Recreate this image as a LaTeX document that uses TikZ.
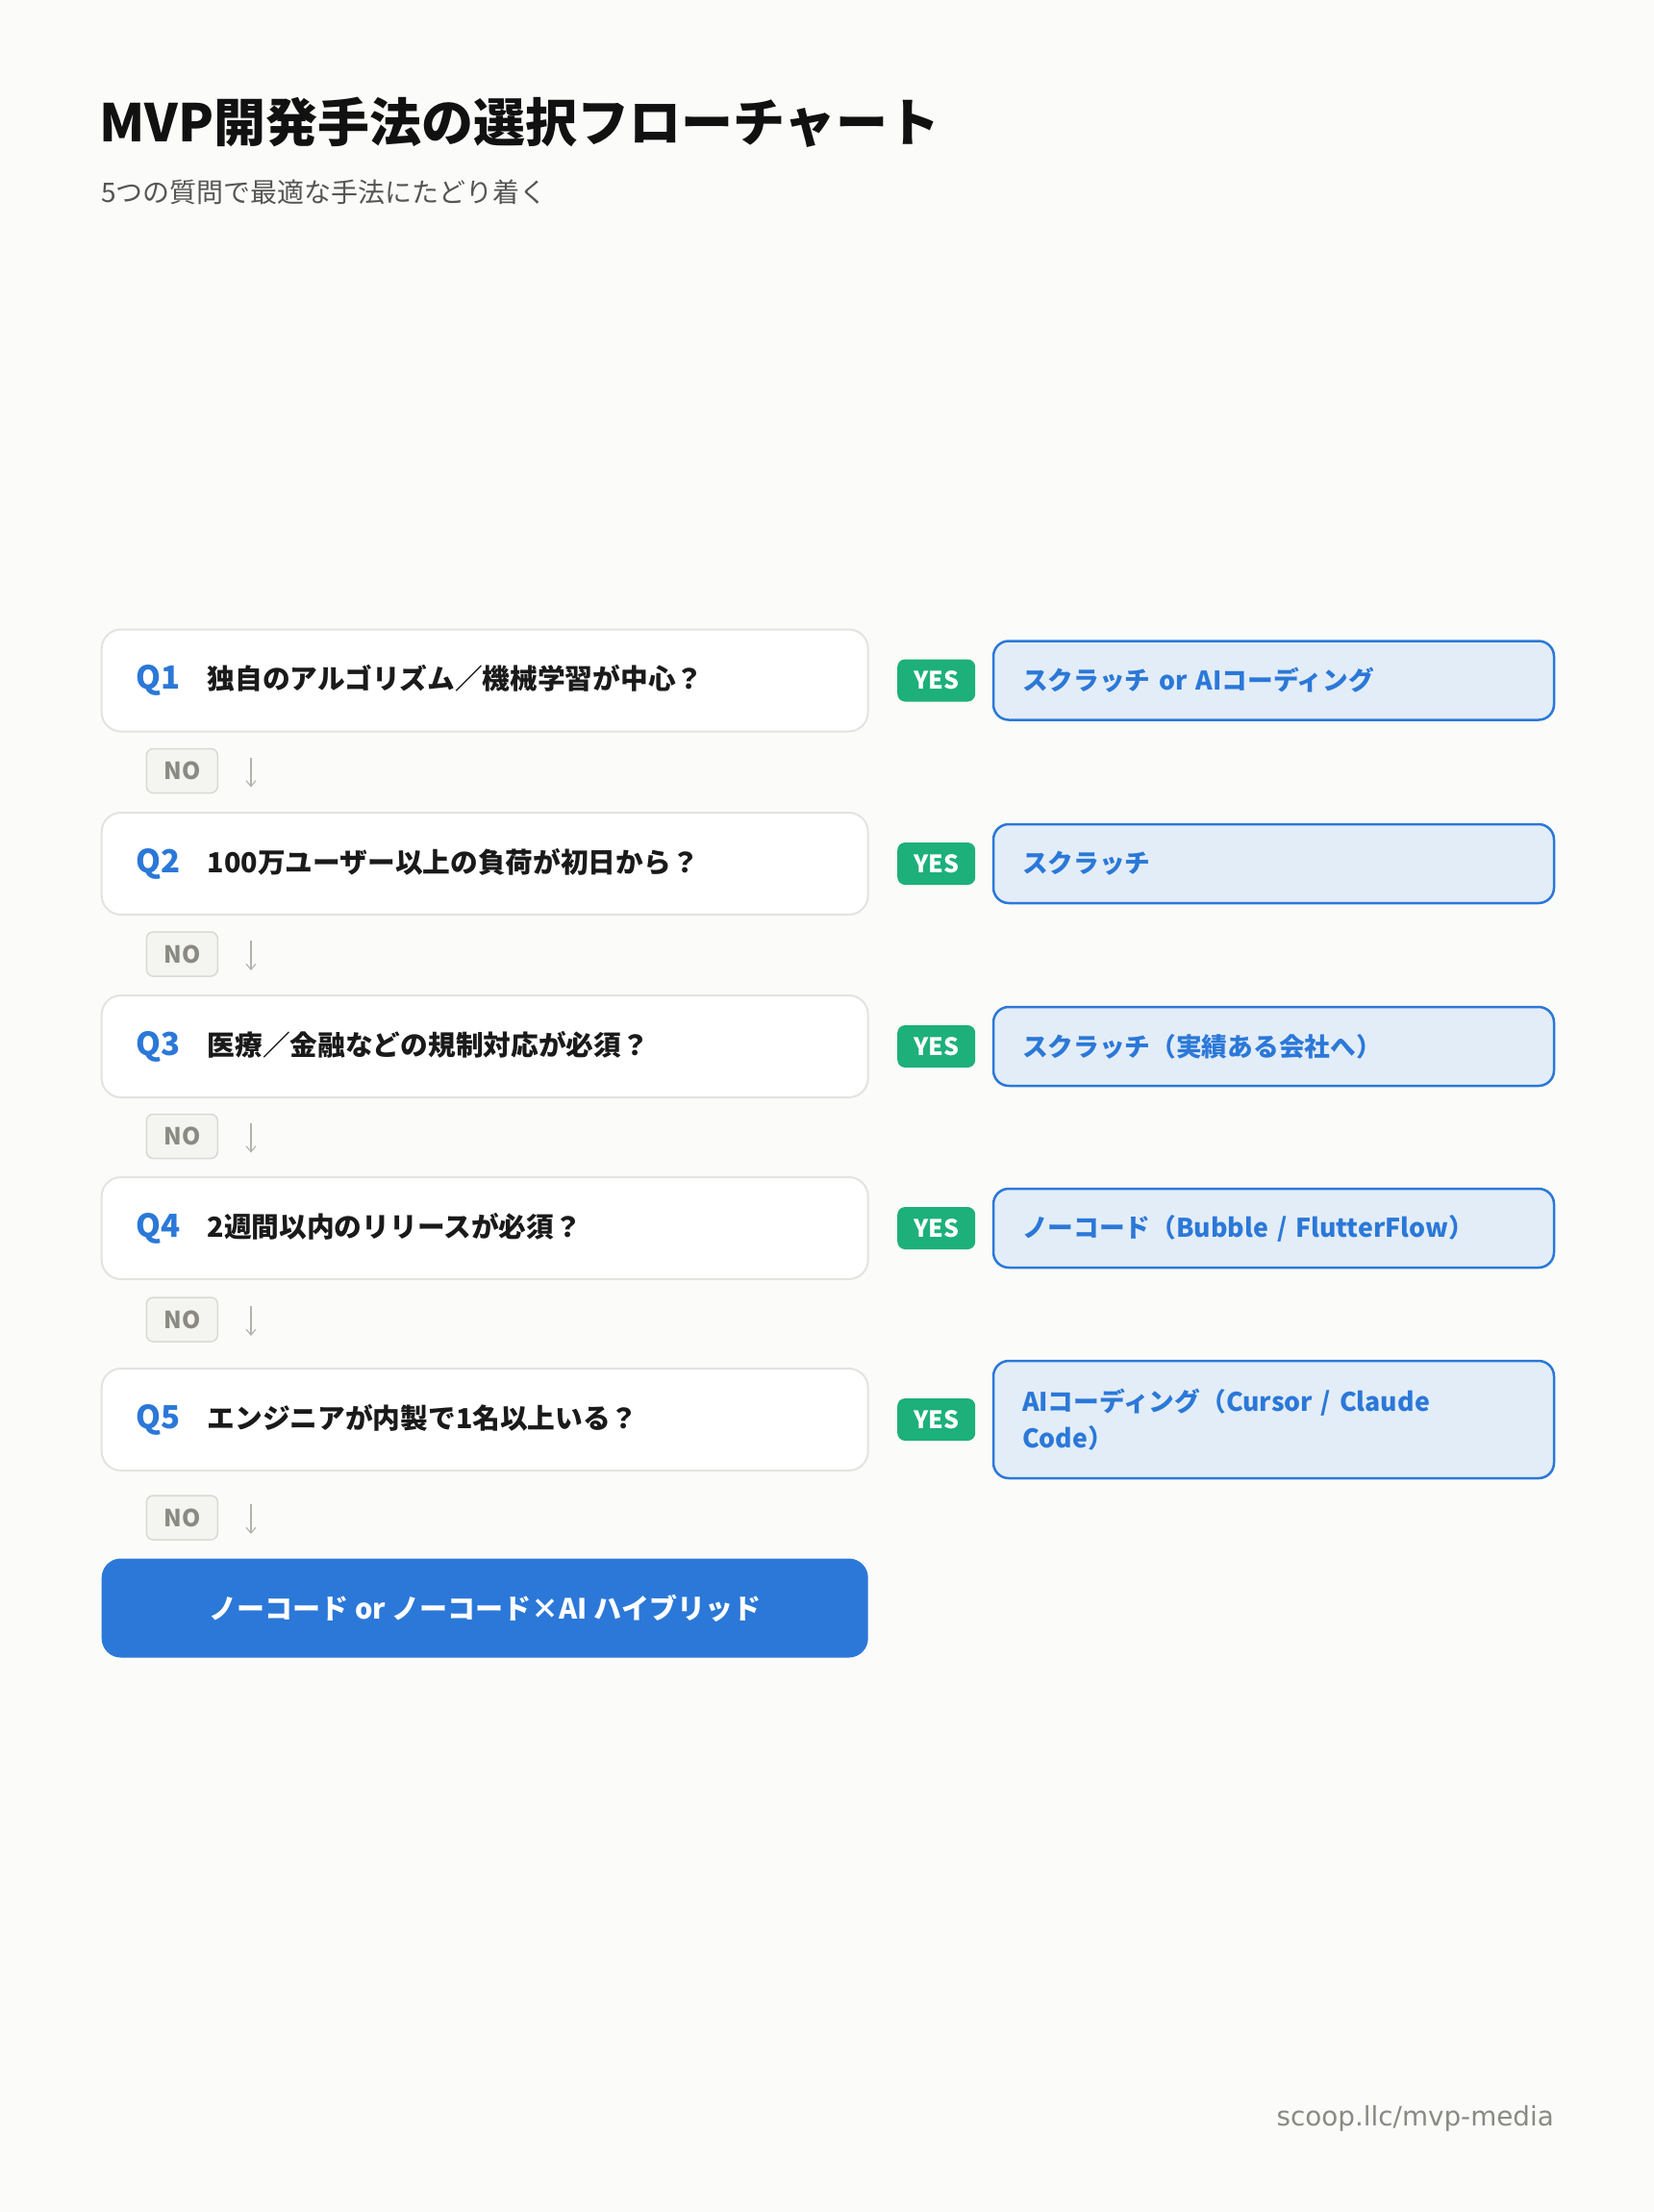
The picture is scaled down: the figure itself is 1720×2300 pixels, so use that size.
\documentclass[tikz,border=0pt]{standalone}
\usepackage{fontspec}
\setmainfont{Noto Sans CJK JP}
\newfontfamily\footfont{DejaVu Sans}
\usetikzlibrary{arrows.meta}
\definecolor{bgc}{HTML}{FBFBF9}
\definecolor{titlec}{HTML}{111111}
\definecolor{subc}{HTML}{555555}
\definecolor{qblue}{HTML}{2B78D8}
\definecolor{qtext}{HTML}{1A1A1A}
\definecolor{qborder}{HTML}{E3E3E0}
\definecolor{nofill}{HTML}{F4F4F0}
\definecolor{noborder}{HTML}{DADAD2}
\definecolor{notext}{HTML}{8A8A82}
\definecolor{arrc}{HTML}{B3B3AB}
\definecolor{yesc}{HTML}{1DB07A}
\definecolor{resfill}{HTML}{E3EDF8}
\definecolor{footc}{HTML}{8A8A84}
\newcommand{\qlabel}[1]{\makebox[74pt][l]{\color{qblue}\fontsize{33}{36}\selectfont #1}}
\begin{document}
\begin{tikzpicture}[x=1pt,y=-1pt,
  qbox/.style={draw=qborder, line width=2pt, fill=white, rounded corners=20pt,
    minimum width=797pt, minimum height=106pt, inner xsep=36pt, text width=725pt,
    align=left, text=qtext, font=\fontsize{28.7}{34}\selectfont\bfseries},
  nobadge/.style={draw=noborder, fill=nofill, line width=1.5pt, rounded corners=7pt,
    minimum width=74pt, minimum height=46pt, inner sep=0pt, text=notext,
    font=\fontsize{24.5}{27}\selectfont\bfseries},
  yesbadge/.style={fill=yesc, rounded corners=8pt, minimum width=81pt, minimum height=44pt,
    inner sep=0pt, text=white, font=\fontsize{25}{27}\selectfont\bfseries},
  resbox/.style={draw=qblue, line width=2.5pt, fill=resfill, rounded corners=16pt,
    minimum width=583pt, minimum height=82pt, inner xsep=30pt, text width=523pt,
    align=left, text=qblue, font=\fontsize{26.7}{38}\selectfont\bfseries},
  finalbox/.style={fill=qblue, rounded corners=20pt, minimum width=797pt, minimum height=103pt,
    text=white, font=\fontsize{29}{34}\selectfont\bfseries},
  noarrow/.style={draw=arrc, line width=1.1pt, -{Straight Barb[length=6pt,width=10pt,line width=1.1pt]}}
]
\useasboundingbox (0,0) rectangle (1720,2300);
\fill[bgc] (0,0) rectangle (1720,2300);

\node[anchor=west, inner sep=0pt, text=titlec, font=\fontsize{54}{60}\selectfont\bfseries] (title) at (103,127) {MVP開発手法の選択フローチャート};
\node[anchor=west, inner sep=0pt, text=subc, font=\fontsize{28}{32}\selectfont] (subtitle) at (105,200) {5つの質問で最適な手法にたどり着く};

% questions
\node[qbox] (q1) at (504.2,707.5) {\qlabel{Q1}独自のアルゴリズム／機械学習が中心？};
\node[qbox] (q2) at (504.2,898) {\qlabel{Q2}100万ユーザー以上の負荷が初日から？};
\node[qbox] (q3) at (504.2,1088) {\qlabel{Q3}医療／金融などの規制対応が必須？};
\node[qbox] (q4) at (504.2,1277) {\qlabel{Q4}2週間以内のリリースが必須？};
\node[qbox] (q5) at (504.2,1476) {\qlabel{Q5}エンジニアが内製で1名以上いる？};

% YES badges
\node[yesbadge] (y1) at (973.7,707.5) {YES};
\node[yesbadge] (y2) at (973.7,898) {YES};
\node[yesbadge] (y3) at (973.7,1088) {YES};
\node[yesbadge] (y4) at (973.7,1277) {YES};
\node[yesbadge] (y5) at (973.7,1476) {YES};

% results
\node[resbox] (r1) at (1324.5,707.5) {スクラッチ or AIコーディング};
\node[resbox] (r2) at (1324.5,898) {スクラッチ};
\node[resbox] (r3) at (1324.5,1088) {スクラッチ（実績ある会社へ）};
\node[resbox] (r4) at (1324.5,1277) {ノーコード（Bubble / FlutterFlow）};
\node[resbox, minimum height=122pt] (r5) at (1324.5,1476) {AIコーディング（Cursor / Claude\\Code）};

% NO badges and arrows
\node[nobadge] (n1) at (189.3,801.5) {NO};
\node[nobadge] (n2) at (189.3,992) {NO};
\node[nobadge] (n3) at (189.3,1181.5) {NO};
\node[nobadge] (n4) at (189.3,1372) {NO};
\node[nobadge] (n5) at (189.3,1578) {NO};
\coordinate (a1s) at (261,787.5); \coordinate (a1e) at (261,818.5);
\coordinate (a2s) at (261,978);   \coordinate (a2e) at (261,1009);
\coordinate (a3s) at (261,1167.5);\coordinate (a3e) at (261,1198.5);
\coordinate (a4s) at (261,1358);  \coordinate (a4e) at (261,1389);
\coordinate (a5s) at (261,1564);  \coordinate (a5e) at (261,1595);
\draw[noarrow] (a1s) -- (a1e);
\draw[noarrow] (a2s) -- (a2e);
\draw[noarrow] (a3s) -- (a3e);
\draw[noarrow] (a4s) -- (a4e);
\draw[noarrow] (a5s) -- (a5e);

% final
\node[finalbox] (fin) at (504.2,1672) {ノーコード or ノーコード×AI ハイブリッド};

% footer
\node[anchor=east, inner sep=0pt, text=footc, font=\footfont\fontsize{27.8}{32}\selectfont] (foot) at (1616,2203) {scoop.llc/mvp-media};
\end{tikzpicture}
\end{document}
